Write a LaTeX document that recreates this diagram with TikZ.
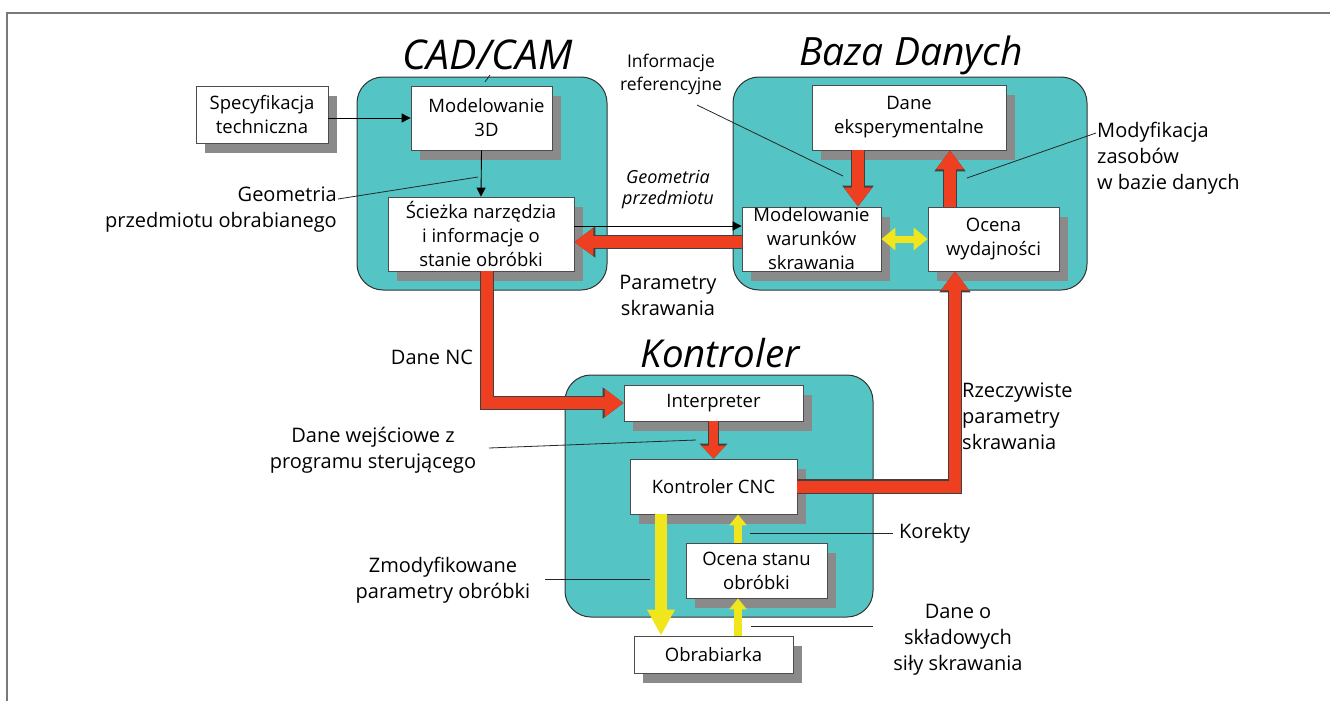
\documentclass[tikz,border=0pt]{standalone}
\usepackage{fontspec}
\setmainfont{Open Sans}
\usetikzlibrary{arrows.meta,calc,shadows}
\definecolor{tealR}{HTML}{55C4C4}
\definecolor{redA}{HTML}{EE4020}
\definecolor{yelA}{HTML}{F0E61E}
\definecolor{shad}{HTML}{8A8A8A}
\definecolor{frameC}{HTML}{7A7A7A}
\begin{document}
\begin{tikzpicture}[x=1pt,y=-1pt,
  region/.style={draw=black!80, fill=tealR, rounded corners=26pt, line width=1pt, inner sep=0pt},
  box/.style={draw=black!70, fill=white, line width=0.8pt, inner sep=0pt, align=center,
    font=\fontsize{18.5}{24}\selectfont,
    drop shadow={shadow xshift=9pt, shadow yshift=-10pt, fill=shad, opacity=1}},
  lbl/.style={align=center, inner sep=0pt, font=\fontsize{20}{26}\selectfont},
  ttl/.style={inner sep=0pt, font=\fontsize{39}{42}\selectfont\itshape},
  leader/.style={draw=black!85, line width=0.8pt},
  thinarrow/.style={draw=black, line width=0.9pt, -{Triangle[width=9pt,length=9pt]}},
  redfat/.style={draw=redA, line width=12pt, -{Triangle[width=27pt,length=19pt]},
    preaction={draw=black!75, line width=14.5pt, -{Triangle[width=30pt,length=21pt]}}},
  redsmall/.style={draw=redA, line width=9pt, -{Triangle[width=24pt,length=13pt]},
    preaction={draw=black!75, line width=11pt, -{Triangle[width=27pt,length=15pt]}}},
  yelbig/.style={draw=yelA, line width=12pt, -{Triangle[width=26pt,length=26pt]}},
  yelsmall/.style={draw=yelA, line width=8pt, -{Triangle[width=17pt,length=11pt]}},
  yeldbl/.style={draw=yelA, line width=7pt, {Triangle[width=22pt,length=14pt]}-{Triangle[width=22pt,length=14pt]}},
]
\useasboundingbox (0,0) rectangle (1330,701);
\fill[white] (0,0) rectangle (1330,701);
% frame
\draw[frameC, line width=1.5pt] (7,701) -- (7,13) -- (1330,13);

% regions
\node[region, minimum width=250pt, minimum height=213pt] (cadR) at (482,183.5) {};
\node[region, minimum width=354pt, minimum height=213pt] (bazaR) at (910,183.5) {};
\node[region, minimum width=308pt, minimum height=242pt] (kontR) at (719,496) {};

% titles
\node[ttl, font=\fontsize{41}{44}\selectfont\itshape] (tcad) at (488,55) {CAD/CAM};
\node[ttl] (tbaza) at (911,55) {Baza Danych};
\node[ttl, font=\fontsize{38.5}{42}\selectfont\itshape] (tkont) at (720,353) {Kontroler};
\coordinate (tk1) at (485,82);
\coordinate (tk2) at (490,75);
\draw[leader] (tk1) -- (tk2);

% boxes
\node[box, minimum width=132pt, minimum height=57pt] (spec) at (262,114.5) {Specyfikacja\\techniczna};
\node[box, minimum width=141pt, minimum height=64pt] (model) at (481.5,118) {\hspace*{10pt}Modelowanie\\\hspace*{10pt}3D};
\node[box, minimum width=186pt, minimum height=74pt] (sciez) at (481,234) {Ścieżka narzędzia\\i informacje o\\stanie obróbki};
\node[box, minimum width=194pt, minimum height=65pt] (dexp) at (909,117.5) {Dane\\eksperymentalne};
\node[box, minimum width=139pt, minimum height=64pt] (modwar) at (811.5,239) {Modelowanie\\warunków\\skrawania};
\node[box, minimum width=131pt, minimum height=64pt] (ocena) at (993.5,239) {Ocena\\wydajności};
\node[box, minimum width=179pt, minimum height=36pt] (interp) at (713.5,403) {Interpreter};
\node[box, minimum width=167pt, minimum height=55pt] (cnc) at (713.5,486.5) {Kontroler CNC};
\node[box, minimum width=141pt, minimum height=55pt] (ostan) at (756.5,570.5) {Ocena stanu\\obróbki};
\node[box, minimum width=159pt, minimum height=37pt] (obrab) at (713.5,654.5) {Obrabiarka};

% helper coordinates
\coordinate (xa) at (858,0);
\coordinate (xb) at (950,0);
\coordinate (xnc) at (487,0);
\coordinate (xr) at (955,0);
\coordinate (xy1) at (661,0);
\coordinate (xy2) at (738,0);
\coordinate (ygeo) at (0,226);
\coordinate (yred) at (0,242);

% connectors
\draw[thinarrow] (spec.east |- model.west) -- (model.west);
\draw[thinarrow] (model.south) -- (sciez.north);
\draw[thinarrow] (sciez.east |- ygeo) -- (modwar.west |- ygeo);
\draw[redfat] (modwar.west |- yred) -- (sciez.east |- yred);
\draw[redfat] (dexp.south -| xa) -- (modwar.north -| xa);
\draw[redfat] (ocena.north -| xb) -- (dexp.south -| xb);
\draw[yeldbl] (modwar.east) -- (ocena.west);
\draw[redfat] (sciez.south -| xnc) -- (xnc |- interp.west) -- (interp.west);
\draw[redsmall] (interp.south) -- (cnc.north);
\draw[redfat] (cnc.east) -- (xr |- cnc.east) -- (ocena.south -| xr);
\draw[yelbig] (cnc.south -| xy1) -- (obrab.north -| xy1);
\draw[yelsmall] (ostan.north -| xy2) -- (cnc.south -| xy2);
\draw[yelsmall] (obrab.north -| xy2) -- (ostan.south -| xy2);

% labels
\node[lbl, align=right, anchor=north east] (geo) at (337,187) {Geometria\\przedmiotu obrabianego};
\node[lbl, font=\fontsize{17.5}{23}\selectfont] (inforef) at (671,74) {Informacje\\referencyjne};
\node[lbl, font=\fontsize{18}{21}\selectfont\itshape] (geop) at (668,190) {Geometria\\przedmiotu};
\node[lbl] (parsk) at (668,295) {Parametry\\skrawania};
\node[lbl, align=left, anchor=west] (modyf) at (1097,158.5) {Modyfikacja\\zasobów\\w bazie danych};
\node[lbl] (dnc) at (432,357) {Dane NC};
\node[lbl, align=left, anchor=west] (rzecz) at (962,416) {Rzeczywiste\\parametry\\skrawania};
\node[lbl] (dwej) at (373,450.5) {Dane wejściowe z\\programu sterującego};
\node[lbl, anchor=west] (korek) at (899,533) {Korekty};
\node[lbl] (zmod) at (443,580) {Zmodyfikowane\\parametry obróbki};
\node[lbl] (daneo) at (958,640) {Dane o\\składowych\\siły skrawania};

% leader lines
\coordinate (g1) at (338,199); \coordinate (g2) at (478,177);
\draw[leader] (g1) -- (g2);
\coordinate (i1) at (697,105); \coordinate (i2) at (843,176);
\draw[leader] (i1) -- (i2);
\coordinate (m1) at (1096,133); \coordinate (m2) at (967,178);
\draw[leader] (m1) -- (m2);
\coordinate (w1) at (489,448); \coordinate (w2) at (696,440);
\draw[leader] (w1) -- (w2);
\coordinate (k1) at (750,533); \coordinate (k2) at (893,533);
\draw[leader] (k1) -- (k2);
\coordinate (d1) at (751,626); \coordinate (d2) at (873,626);
\draw[leader] (d1) -- (d2);
\coordinate (z1) at (545,579); \coordinate (z2) at (650,579);
\draw[leader] (z1) -- (z2);
\end{tikzpicture}
\end{document}
